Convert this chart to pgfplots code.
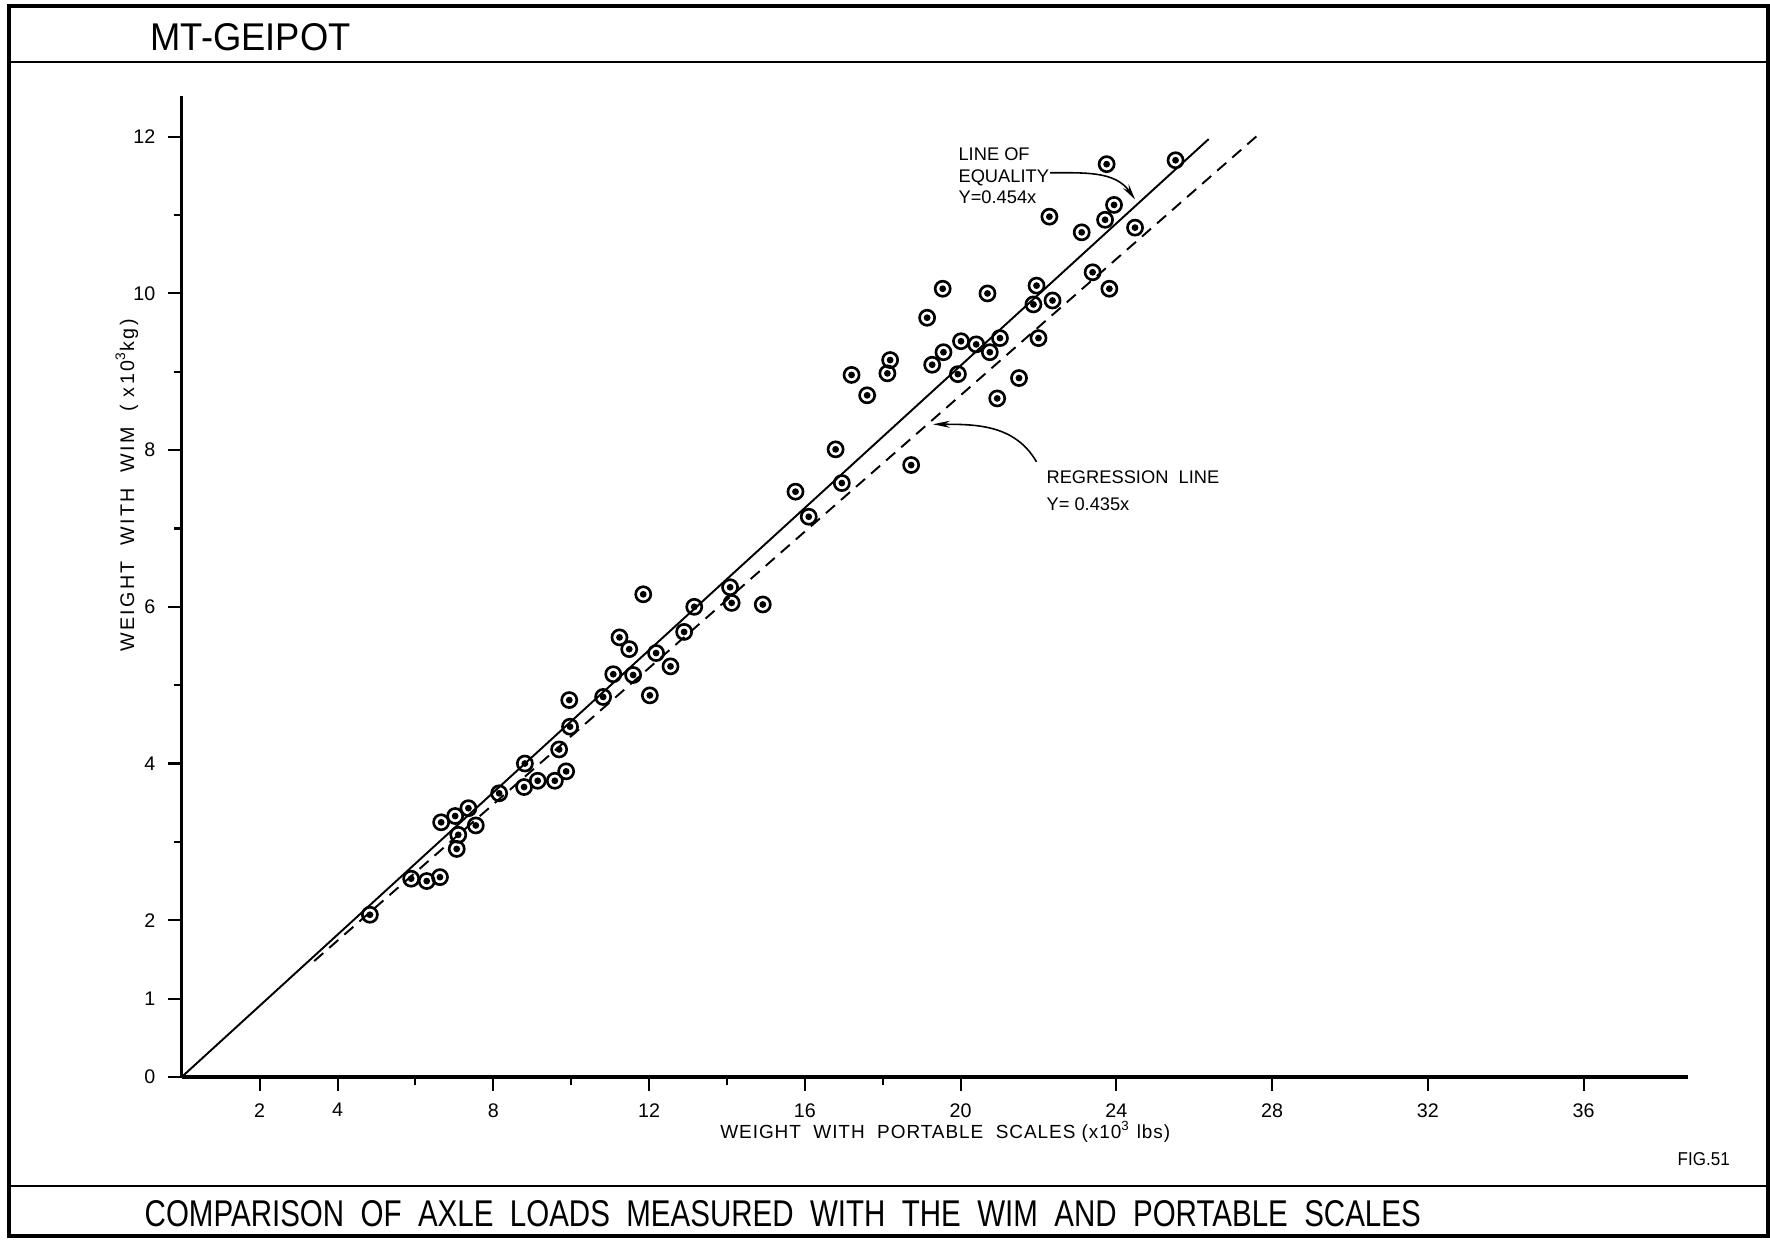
\documentclass[border=0pt]{standalone}
\usepackage{fontspec}
\setmainfont{Liberation Sans}
\usepackage{graphicx}
\usepackage{pgfplots}
\pgfplotsset{compat=1.18}
\usepackage{pgfplotstable}
\usetikzlibrary{arrows.meta}

% axle loads: portable scales (x10^3 lbs) vs. WIM (x10^3 kg)
\pgfplotstableread{
x y
4.83 2.07
5.89 2.53
6.29 2.50
6.63 2.55
6.66 3.25
7.02 3.33
7.36 3.43
7.10 3.09
7.06 2.91
7.55 3.21
8.15 3.62
8.81 4.00
8.79 3.70
9.14 3.78
9.58 3.78
9.87 3.90
9.69 4.18
9.97 4.47
9.95 4.81
10.82 4.85
11.08 5.14
11.59 5.13
11.24 5.61
11.49 5.46
11.85 6.16
12.02 4.87
12.18 5.41
12.55 5.24
12.90 5.68
13.16 6.00
14.08 6.25
14.12 6.05
14.92 6.03
15.76 7.47
16.10 7.15
16.95 7.58
16.79 8.01
18.73 7.81
17.20 8.96
17.60 8.70
18.12 8.98
18.19 9.15
19.14 9.69
19.27 9.09
19.54 10.06
19.56 9.25
19.93 8.97
20.01 9.39
20.40 9.35
20.69 10.00
20.75 9.25
21.01 9.43
20.94 8.66
21.50 8.92
21.95 10.10
21.87 9.86
22.36 9.91
22.00 9.43
22.28 10.98
23.11 10.78
23.39 10.27
23.71 10.94
23.94 11.13
23.75 11.65
23.82 10.06
24.48 10.84
25.52 11.70
}\axleloads

\newcommand{\lblfont}{\fontsize{5.2}{6}\selectfont}
\newcommand{\xlblfont}{\fontsize{5.4}{6}\selectfont\addfontfeature{LetterSpace=5}}
\newcommand{\ylblfont}{\fontsize{5.6}{6}\selectfont\addfontfeature{LetterSpace=12}}

\begin{document}
\begin{tikzpicture}[x=1cm,y=1cm]
\useasboundingbox (0,0) rectangle (17.7,12.4);
% sheet frame, header and footer
\draw[line width=1.2pt] (0.09,0.04) rectangle (17.68,12.34);
\draw[line width=0.6pt] (0.09,11.78) -- (17.68,11.78);
\draw[line width=0.6pt] (0.09,0.54) -- (17.68,0.54);
\node[anchor=west,inner sep=0] at (1.50,12.03)
  {\resizebox{2.0cm}{2.7mm}{MT-GEIPOT}};
\node[anchor=west,inner sep=0] at (1.44,0.265)
  {\resizebox{12.76cm}{2.6mm}{COMPARISON\ \ OF\ \ AXLE\ \ LOADS\ \ MEASURED\ \ WITH\ \ THE\ \ WIM\ \ AND\ \ PORTABLE\ \ SCALES}};
\node[anchor=west,inner sep=0] at (16.77,0.81)
  {\resizebox{5.2mm}{1.3mm}{FIG.51}};

\begin{axis}[
  at={(1.818cm,1.631cm)}, anchor=south west,
  scale only axis, width=15.058cm, height=9.809cm,
  xmin=0, xmax=38.67, ymin=0, ymax=12.52,
  axis x line*=bottom, axis y line*=left,
  axis line style={line width=0.9pt},
  xtick={2,4,8,12,16,20,24,28,32,36},
  minor xtick={6,10,14,18},
  ytick={0,1,2,4,6,8,10,12},
  minor ytick={3,5,7,9,11},
  tick align=outside,
  major tick length=1.4mm, minor tick length=0.8mm,
  every tick/.style={line width=0.6pt, black},
  ticklabel style={font=\fontsize{5.6}{6}\selectfont},
  /pgf/number format/assume math mode=true,
  xlabel={WEIGHT\ \ WITH\ \ PORTABLE\ \ SCALES (x10\textsuperscript{3} lbs)},
  ylabel={WEIGHT\ \ WITH\ \ WIM\ \ ( x10\textsuperscript{3}kg)},
  xlabel style={at={(axis description cs:0.507,-0.056)}, anchor=center, font=\xlblfont},
  ylabel style={at={(axis description cs:-0.0365,0.603)}, anchor=center, font=\ylblfont},
  clip=false,
]
% line of equality and regression line
\addplot[black, line width=0.55pt] coordinates {(0,0) (26.37,11.97)};
\addplot[black, line width=0.55pt, dash pattern=on 1.2mm off 0.8mm]
  coordinates {(3.4,1.479) (27.6,12.006)};
% measured axle loads: ring with centre dot
\addplot[only marks, mark=o, mark size=2.15pt,
  mark options={line width=0.75pt, black}] table[x=x,y=y] {\axleloads};
\addplot[only marks, mark=*, mark size=0.75pt,
  mark options={black, fill=black}] table[x=x,y=y] {\axleloads};

% annotations
\node[anchor=base west, inner sep=0, font=\lblfont] at (axis cs:19.93,11.70) {LINE OF};
\node[anchor=base west, inner sep=0, font=\lblfont] at (axis cs:19.93,11.42) {EQUALITY};
\node[anchor=base west, inner sep=0, font=\lblfont] at (axis cs:19.93,11.15) {Y=0.454x};
\draw[line width=0.45pt, -{Stealth[length=1.6mm,width=0.7mm]}]
  (axis cs:22.30,11.54) to[out=0,in=125] (axis cs:24.48,11.20);
\node[anchor=base west, inner sep=0, font=\lblfont] at (axis cs:22.19,7.58) {REGRESSION\ \ LINE};
\node[anchor=base west, inner sep=0, font=\lblfont] at (axis cs:22.19,7.23) {Y= 0.435x};
\draw[line width=0.45pt, -{Stealth[length=1.7mm,width=0.7mm]}]
  (axis cs:21.95,7.85) to[out=120,in=0] (axis cs:19.29,8.33);
\end{axis}
\end{tikzpicture}
\end{document}
